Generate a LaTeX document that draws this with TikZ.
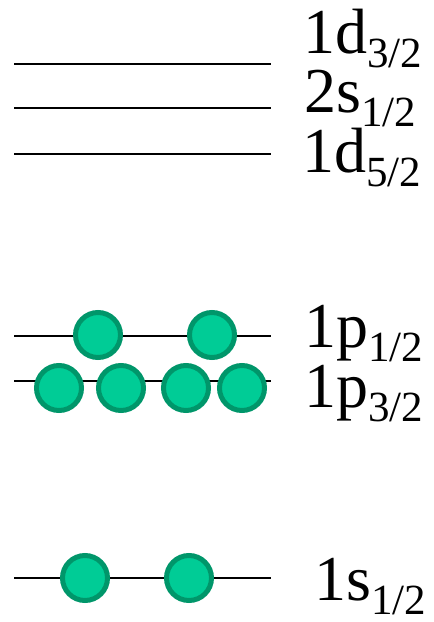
\documentclass[tikz,border=0pt]{standalone}
\usepackage{fontspec}
\setmainfont{Liberation Serif}
\definecolor{efill}{RGB}{0,204,150}
\definecolor{edge}{RGB}{0,150,106}
\tikzset{
  level/.style={line width=2pt, black},
  electron/.style={circle, draw=edge, fill=efill, line width=5pt, minimum size=45pt, inner sep=0pt},
  lab/.style={anchor=base west, inner sep=0pt, font=\fontsize{64}{64}\selectfont}
}
\newcommand{\lvl}[2]{#1\raisebox{-14pt}[\height][14pt]{\fontsize{43}{43}\selectfont #2}}
\begin{document}
\begin{tikzpicture}[x=1pt,y=-1pt]
\useasboundingbox (0,0) rectangle (434,622);
% level lines
\foreach \n/\y in {a/64,b/108,c/154,d/336,e/381,f/578}{
  \coordinate (\n L) at (14,\y);
  \coordinate (\n R) at (271,\y);
  \draw[level] (\n L) -- (\n R);
}
% electrons
\node[electron] (p1a) at (98,335) {};
\node[electron] (p1b) at (212,335) {};
\node[electron] (p3a) at (59,388) {};
\node[electron] (p3b) at (121,388) {};
\node[electron] (p3c) at (186,388) {};
\node[electron] (p3d) at (242,388) {};
\node[electron] (s1a) at (85,578) {};
\node[electron] (s1b) at (189,578) {};
% labels
\node[lab] (l1) at (303,53) {\lvl{1d}{3/2}};
\node[lab] (l2) at (304,112) {\lvl{2s}{1/2}};
\node[lab] (l3) at (302,172) {\lvl{1d}{5/2}};
\node[lab] (l4) at (304,347) {\lvl{1p}{1/2}};
\node[lab] (l5) at (304,407) {\lvl{1p}{3/2}};
\node[lab] (l6) at (314,600) {\lvl{1s}{1/2}};
\end{tikzpicture}
\end{document}
